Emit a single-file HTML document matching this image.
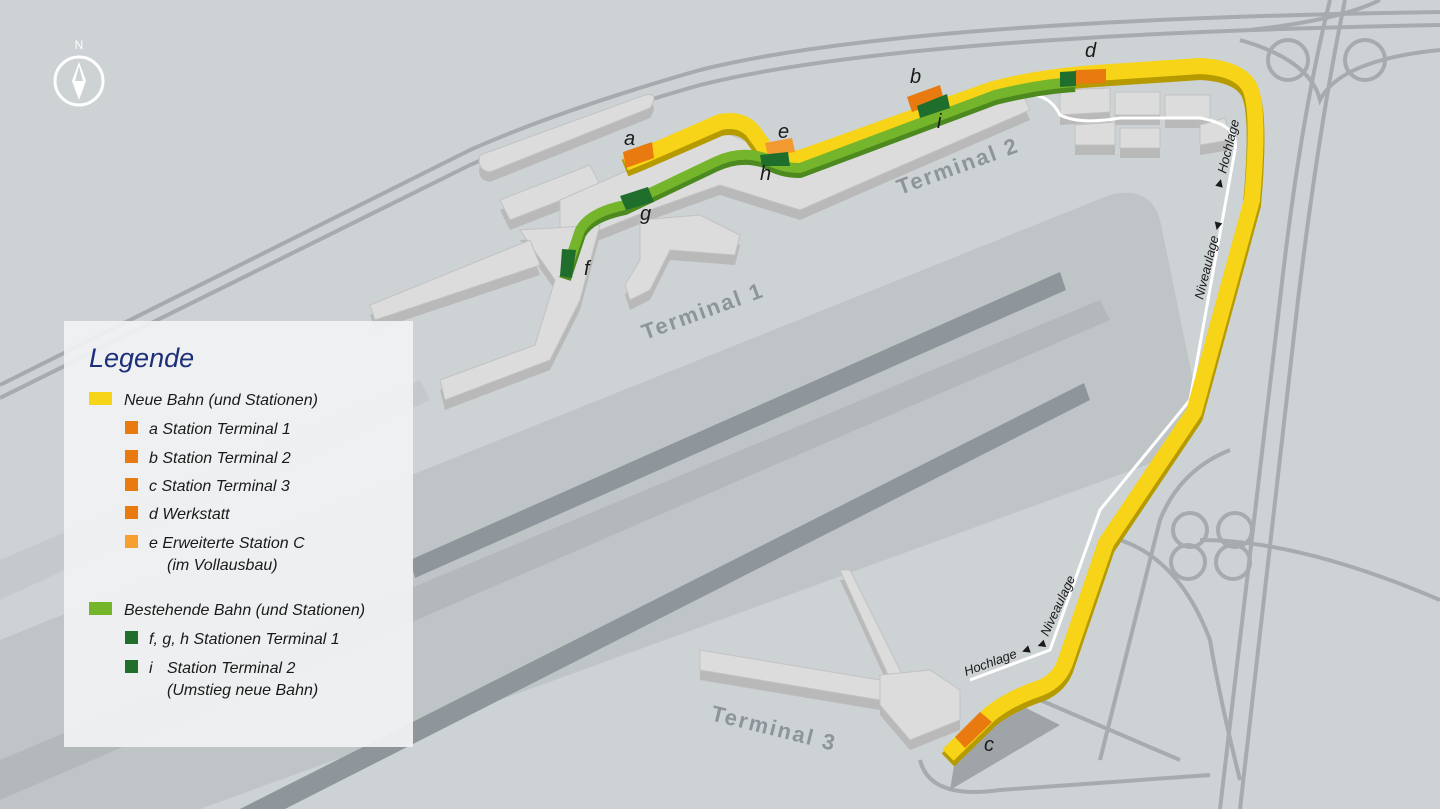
<!DOCTYPE html>
<html><head><meta charset="utf-8"><style>
html,body{margin:0;padding:0;background:#cdd2d5;}
svg{display:block;}
.it{font-family:"Liberation Sans",sans-serif;font-style:italic;}
</style></head><body>
<svg width="1440" height="809" viewBox="0 0 1440 809" xmlns="http://www.w3.org/2000/svg">
<defs>
<g id="bld">
<path d="M480 155 L645 95 Q660 92 650 108 L490 172 Q476 170 480 155Z"/>
<path d="M500 200 L590 165 L600 185 L510 220Z"/>
<path d="M560 200 L720 130 L800 165 L880 140 L1020 88 L1030 110 L880 175 L800 210 L720 185 L650 210 L600 230 L560 240Z"/>
<path d="M640 220 L700 215 L740 235 L735 255 L670 250 L650 290 L630 300 L625 285 L640 260 Z"/>
<path d="M520 230 L600 225 L580 300 L550 360 L445 400 L440 380 L535 345 L555 280Z"/>
<path d="M370 305 L530 240 L540 265 L375 320Z"/>
<path d="M1060 90 L1110 88 L1110 112 L1060 115Z"/>
<path d="M1115 92 L1160 92 L1160 115 L1115 115Z"/>
<path d="M1165 95 L1210 95 L1210 118 L1165 118Z"/>
<path d="M1075 125 L1115 122 L1115 145 L1075 145Z"/>
<path d="M1120 128 L1160 128 L1160 148 L1120 148Z"/>
<path d="M1200 125 L1225 118 L1230 140 L1200 145Z"/>
<path d="M840 570 L850 570 L905 680 L895 690Z"/>
<path d="M700 650 L880 680 L880 700 L700 670Z"/>
<path d="M880 675 L930 670 L960 690 L960 720 L910 740 L880 705Z"/>
</g>
</defs>
<rect width="1440" height="809" fill="#cdd2d5"/>
<!-- apron -->
<path d="M0 640 L1110 195 Q1150 185 1160 220 L1195 390 Q1200 430 1160 460 L200 809 L0 809 Z" fill="#bfc4c7"/>
<path d="M0 760 L1100 300 L1110 320 L0 800 Z" fill="#b3b8bb"/>
<!-- runways -->
<path d="M410 560 L1060 272 L1066 290 L415 578 Z" fill="#8f969b"/>
<path d="M240 809 L1084 383 L1090 400 L285 809 Z" fill="#8f969b"/>
<path d="M0 560 L420 380 L430 400 L0 600Z" fill="#c4c9cc"/>
<!-- roads -->
<g fill="none" stroke="#a5abaf" stroke-width="4">
<path d="M0 385 L470 150 Q560 110 700 70 Q900 20 1440 12"/>
<path d="M0 398 L470 165 Q560 125 700 85 Q900 35 1440 25"/>
<path d="M1330 0 Q1300 120 1280 300 L1220 809"/>
<path d="M1345 0 Q1320 120 1298 300 L1240 809"/>
<path d="M1240 40 Q1310 60 1320 100 Q1340 60 1440 50"/>
<path d="M1250 30 Q1340 20 1380 0"/>
<path d="M1230 450 Q1180 470 1160 520 L1120 680 L1100 760"/>
<path d="M1200 540 Q1300 540 1440 600"/>
<path d="M1120 540 Q1180 560 1210 640 Q1220 700 1240 780"/>
<path d="M920 760 Q930 800 1000 790 L1210 775"/>
<path d="M1040 700 L1180 760"/>
</g>
<g fill="none" stroke="#a5abaf" stroke-width="4">
<circle cx="1190" cy="530" r="17"/><circle cx="1235" cy="530" r="17"/><circle cx="1188" cy="562" r="17"/><circle cx="1233" cy="562" r="17"/>
<circle cx="1288" cy="60" r="20"/><circle cx="1365" cy="60" r="20"/>
</g>
<polygon points="955,760 1020,705 1060,725 950,790" fill="#9ea4a8"/>
<!-- buildings with sides -->
<use href="#bld" fill="#b9b9b9" transform="translate(0,10)"/>
<use href="#bld" fill="#dcdcdc" stroke="#c2c2c2" stroke-width="1"/>
<!-- white at-grade -->
<path d="M1030 95 Q1050 95 1060 115 Q1080 125 1120 118 L1200 118 Q1240 125 1235 150 L1190 400 L1100 510 L1050 650 L970 680" fill="none" stroke="#fff" stroke-width="3"/>
<g fill="none" stroke-linejoin="round">
<path d="M948 755 L990 714 Q1010 698 1040 688 Q1060 680 1066 660 L1106 543 L1194 412 L1252 200 Q1260 110 1250 88 Q1240 68 1200 66 L1110 72 Q1040 76 990 90 L800 158 Q775 160 765 148 L752 130 Q740 118 720 122 L640 157 L625 163" stroke="#b59b00" stroke-width="18" transform="translate(0,5)"/>
<path d="M948 755 L990 714 Q1010 698 1040 688 Q1060 680 1066 660 L1106 543 L1194 412 L1252 200 Q1260 110 1250 88 Q1240 68 1200 66 L1110 72 Q1040 76 990 90 L800 158 Q775 160 765 148 L752 130 Q740 118 720 122 L640 157 L625 163" stroke="#f7d417" stroke-width="16"/>
<path d="M1075 82 Q1040 84 995 95 L800 168 Q780 168 765 158 Q740 150 715 162 L625 205 Q590 212 580 230 L565 275" stroke="#4c8a20" stroke-width="12" transform="translate(0,4)"/>
<path d="M1075 82 Q1040 84 995 95 L800 168 Q780 168 765 158 Q740 150 715 162 L625 205 Q590 212 580 230 L565 275" stroke="#74b52c" stroke-width="10"/>
</g>
<polygon points="623,152 652,142 654,158 626,168" fill="#e87a10"/>
<polygon points="907,97 940,85 944,100 912,112" fill="#e87a10"/>
<polygon points="1075,70 1106,69 1106,83 1075,84" fill="#e87a10"/>
<polygon points="765,143 792,138 795,152 768,156" fill="#f29a30"/>
<polygon points="955,737 980,712 992,722 965,748" fill="#e87a10"/>
<polygon points="917,106 947,94 950,108 920,118" fill="#1f6e2c"/>
<polygon points="1060,72 1076,71 1076,86 1060,87" fill="#1f6e2c"/>
<polygon points="760,155 788,152 790,166 762,166" fill="#1f6e2c"/>
<polygon points="620,196 648,187 654,202 626,210" fill="#1f6e2c"/>
<polygon points="562,249 576,250 572,278 560,276" fill="#1f6e2c"/>
<g class="it" font-size="20" fill="#1a1a1a">
<text x="624" y="145">a</text><text x="910" y="83">b</text><text x="984" y="751">c</text>
<text x="1085" y="57">d</text><text x="778" y="138">e</text><text x="584" y="275">f</text>
<text x="640" y="220">g</text><text x="760" y="180">h</text><text x="937" y="128">i</text>
</g>
<g font-family="Liberation Sans,sans-serif" font-weight="bold" font-size="22" fill="#8e959a" letter-spacing="2">
<text transform="translate(645,340) rotate(-20)">Terminal 1</text>
<text transform="translate(900,195) rotate(-20)">Terminal 2</text>
<text transform="translate(710,720) rotate(14)">Terminal 3</text>
</g>
<g class="it" font-size="13" fill="#1a1a1a">
<text transform="translate(1203,300) rotate(-76)">Niveaulage ◄</text>
<text transform="translate(1222,190) rotate(-76)">► Hochlage</text>
<text transform="translate(1048,637) rotate(-65)">Niveaulage</text>
<text transform="translate(966,676) rotate(-20)">Hochlage ◄ ◄</text>
</g>
<circle cx="79" cy="81" r="24" fill="none" stroke="#fff" stroke-width="3"/>
<polygon points="79,62 86,81 79,100 72,81" fill="#fff"/>
<polygon points="79,66 83,81 75,81" fill="#cdd2d5"/>
<text x="79" y="49" font-family="Liberation Sans,sans-serif" font-size="12" fill="#fff" text-anchor="middle">N</text>
<rect x="64" y="321" width="349" height="426" fill="#f1f2f3" opacity="0.93"/>
<g class="it" fill="#1a1a1a" font-size="16">
<text x="89" y="367" font-size="27" fill="#1c2f7a">Legende</text>
<rect x="89" y="392" width="23" height="13" fill="#f7d417"/>
<text x="124" y="405">Neue Bahn (und Stationen)</text>
<rect x="125" y="421" width="13" height="13" fill="#e87a10"/><text x="149" y="434">a  Station Terminal 1</text>
<rect x="125" y="450" width="13" height="13" fill="#e87a10"/><text x="149" y="463">b  Station Terminal 2</text>
<rect x="125" y="478" width="13" height="13" fill="#e87a10"/><text x="149" y="491">c  Station Terminal 3</text>
<rect x="125" y="506" width="13" height="13" fill="#e87a10"/><text x="149" y="519">d  Werkstatt</text>
<rect x="125" y="535" width="13" height="13" fill="#f5a030"/><text x="149" y="548">e  Erweiterte Station C</text>
<text x="167" y="570">(im Vollausbau)</text>
<rect x="89" y="602" width="23" height="13" fill="#74b52c"/>
<text x="124" y="615">Bestehende Bahn (und Stationen)</text>
<rect x="125" y="631" width="13" height="13" fill="#1f6e2c"/><text x="149" y="644">f, g, h  Stationen Terminal 1</text>
<rect x="125" y="660" width="13" height="13" fill="#1f6e2c"/><text x="167" y="673">Station Terminal 2</text>
<text x="149" y="673">i</text>
<text x="167" y="695">(Umstieg neue Bahn)</text>
</g>
</svg>
</body></html>
